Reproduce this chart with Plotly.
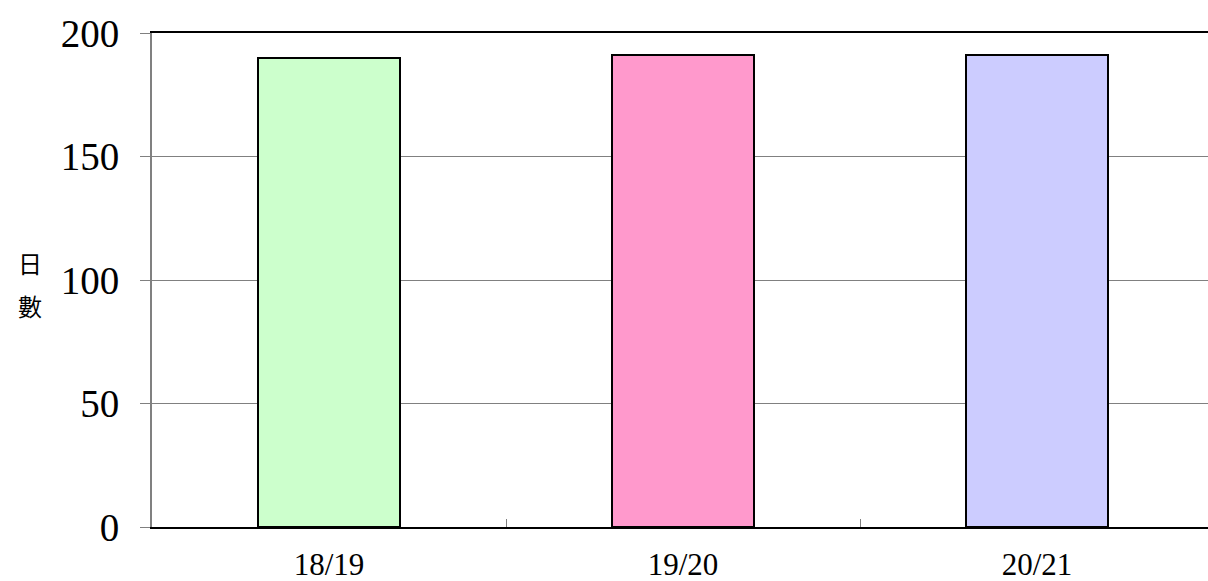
import plotly.graph_objects as go

categories = ["18/19", "19/20", "20/21"]
values = [190, 191, 191]
colors = ["#CCFFCC", "#FF99CC", "#CCCCFF"]
y_ticks = [0, 50, 100, 150, 200]

fig = go.Figure()
fig.add_trace(go.Bar(
    x=categories, y=values, width=0.4,
    marker=dict(color=colors, line=dict(color="black", width=2)),
    hoverinfo="skip",
))

fig.update_layout(
    width=1208, height=581,
    margin=dict(l=152, r=0, t=33, b=54),
    paper_bgcolor="white", plot_bgcolor="white",
    showlegend=False,
    font=dict(family="Liberation Serif", color="black"),
    bargap=0,
)
fig.update_xaxes(
    type="category", range=[-0.5, 2.483],
    showline=True, linecolor="black", linewidth=2, mirror=True,
    tickson="boundaries", ticks="inside", ticklen=8, tickcolor="#808080", tickwidth=1,
    tickfont=dict(size=31, family="Liberation Serif"),
    ticklabelstandoff=9,
    showgrid=False,
)
fig.update_yaxes(
    range=[0, 200], tickvals=y_ticks,
    showline=True, linecolor="#808080", linewidth=2,
    ticks="outside", ticklen=10, tickcolor="#808080", tickwidth=1,
    tickfont=dict(size=39, family="Liberation Serif"),
    ticklabelstandoff=13,
    showgrid=True, gridcolor="#808080", gridwidth=1,
    zeroline=False,
)
for ch, yp in [("日", 0.536), ("數", 0.449)]:
    fig.add_annotation(
        text=ch, xref="paper", yref="paper",
        x=-0.1155, y=yp, showarrow=False,
        font=dict(size=24, family="Noto Sans CJK TC", color="black"),
        xanchor="center", yanchor="middle",
    )
fig.write_html(
    "out.html",
    config={"displayModeBar": False},
    post_script="document.body.style.margin='0';document.body.style.overflow='hidden';",
)
